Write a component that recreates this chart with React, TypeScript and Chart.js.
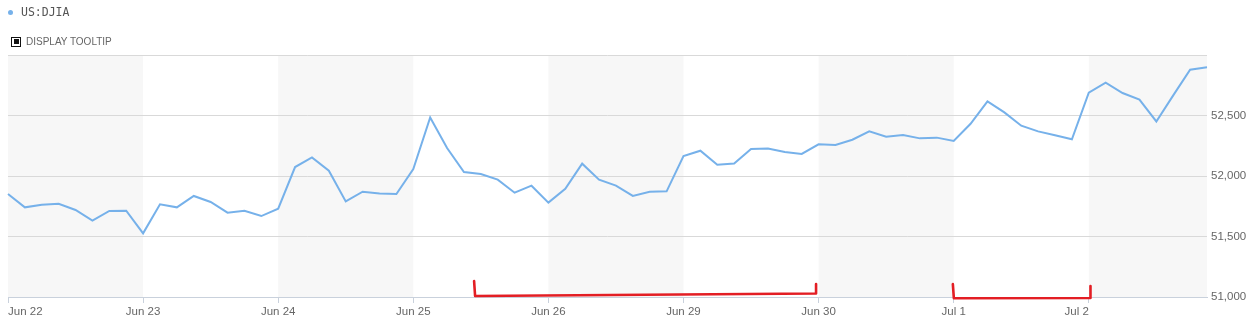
import React, { useEffect, useRef } from "react";
import { Chart, registerables } from "chart.js";

Chart.register(...registerables);

const seriesName = "US:DJIA";
const dayLabels = ["Jun 22", "Jun 23", "Jun 24", "Jun 25", "Jun 26", "Jun 29", "Jun 30", "Jul 1", "Jul 2"];
const pointsPerDay = 8;
const yTicks = [51000, 51500, 52000, 52500, 53000];

const djiaValues = [
  51851, 51741, 51763, 51771, 51719, 51631, 51711, 51713,
  51526, 51766, 51741, 51835, 51785, 51697, 51713, 51669,
  51730, 52074, 52154, 52044, 51790, 51870, 51856, 51851,
  52058, 52484, 52231, 52033, 52017, 51970, 51862, 51920,
  51780, 51895, 52102, 51970, 51920, 51835, 51870, 51873,
  52165, 52209, 52093, 52104, 52223, 52228, 52198, 52182,
  52262, 52256, 52300, 52369, 52325, 52339, 52311, 52317,
  52289, 52432, 52617, 52526, 52416, 52369, 52336, 52303,
  52688, 52771, 52686, 52631, 52451, 52666, 52879, 52898,
];

// hand-drawn red brackets, in data units (index along x, value along y)
const bracketStartIdx = [27.6, 55.95];
const bracketEndIdx = [47.85, 64.1];
const bracketStartTop = [51132, 51107];
const bracketEndTop = [51107, 51091];
const bracketStartBottom = [51008, 50990];
const bracketEndBottom = [51029, 50992];

const LINE_COLOR = "#76b1ea";

export default function App() {
  const canvasRef = useRef<HTMLCanvasElement | null>(null);

  useEffect(() => {
    const canvas = canvasRef.current;
    if (!canvas) return;
    const labels = djiaValues.map((_, i) => (i % pointsPerDay === 0 ? dayLabels[i / pointsPerDay] : ""));

    const bandsPlugin = {
      id: "bands",
      beforeDraw(chart: any) {
        const { ctx, chartArea, scales } = chart;
        ctx.save();
        ctx.fillStyle = "#ffffff";
        ctx.fillRect(0, 0, chart.width, chart.height);
        const x = scales.x;
        ctx.fillStyle = "#f7f7f7";
        dayLabels.forEach((_, d) => {
          if (d % 2 !== 0) return;
          const s = d * pointsPerDay;
          const e = Math.min((d + 1) * pointsPerDay, djiaValues.length - 1);
          const x0 = x.getPixelForValue(s);
          const x1 = x.getPixelForValue(e);
          ctx.fillRect(x0, chartArea.top, x1 - x0, chartArea.bottom - chartArea.top);
        });
        ctx.restore();
      },
    };

    const bracketPlugin = {
      id: "brackets",
      afterDraw(chart: any) {
        const { ctx, scales } = chart;
        const x = scales.x;
        const y = scales.y;
        ctx.save();
        ctx.strokeStyle = "#e31e24";
        ctx.lineWidth = 2.6;
        ctx.lineCap = "round";
        ctx.lineJoin = "round";
        bracketStartIdx.forEach((si, k) => {
          const x0 = x.getPixelForValue(si);
          const x1 = x.getPixelForValue(bracketEndIdx[k]);
          ctx.beginPath();
          ctx.moveTo(x0, y.getPixelForValue(bracketStartTop[k]));
          ctx.lineTo(x0 + 1, y.getPixelForValue(bracketStartBottom[k]));
          ctx.lineTo(x1, y.getPixelForValue(bracketEndBottom[k]));
          ctx.lineTo(x1, y.getPixelForValue(bracketEndTop[k]));
          ctx.stroke();
        });
        ctx.restore();
      },
    };

    const chart = new Chart(canvas, {
      type: "line",
      data: {
        labels,
        datasets: [
          {
            label: seriesName,
            data: djiaValues,
            borderColor: LINE_COLOR,
            backgroundColor: LINE_COLOR,
            borderWidth: 2,
            pointRadius: 0,
            pointHoverRadius: 0,
            tension: 0,
            fill: false,
          },
        ],
      },
      options: {
        animation: false,
        responsive: false,
        maintainAspectRatio: false,
        layout: { padding: { left: 8, top: 55, right: 0, bottom: 0 } },
        plugins: {
          legend: { display: false },
          tooltip: { enabled: false },
        },
        scales: {
          x: {
            type: "category",
            offset: false,
            border: { display: true, color: "#c9d1dc", width: 1 },
            grid: {
              display: true,
              drawOnChartArea: false,
              drawTicks: true,
              tickLength: 6,
              color: "#c9d1dc",
            },
            ticks: {
              autoSkip: false,
              maxRotation: 0,
              minRotation: 0,
              align: "inner",
              padding: 2,
              color: "#666666",
              font: { family: "'Liberation Sans', Arial, sans-serif", size: 11.5 },
              callback: (_v: any, idx: number) =>
                idx % pointsPerDay === 0 ? dayLabels[idx / pointsPerDay] : null,
            },
            afterFit: (scale: any) => {
              scale.height = 30;
            },
          },
          y: {
            type: "linear",
            position: "right",
            min: yTicks[0],
            max: yTicks[yTicks.length - 1],
            afterBuildTicks: (scale: any) => {
              scale.ticks = yTicks.map((v) => ({ value: v }));
            },
            border: { display: false },
            grid: {
              drawTicks: false,
              color: (c: any) => (c.tick && c.tick.value === yTicks[0] ? "rgba(0,0,0,0)" : "#d9d9d9"),
              lineWidth: 1,
            },
            ticks: {
              padding: 4,
              color: "#666666",
              font: { family: "'Liberation Sans', Arial, sans-serif", size: 11.5 },
              callback: (v: any) =>
                v === yTicks[yTicks.length - 1] ? "" : Number(v).toLocaleString("en-US"),
            },
            afterFit: (scale: any) => {
              scale.width = 51;
            },
          },
        },
      },
      plugins: [bandsPlugin, bracketPlugin],
    });

    return () => {
      chart.destroy();
    };
  }, []);

  return (
    <div style={{ position: "relative", width: 1258, height: 327, overflow: "hidden", background: "#fff" }}>
      <style>{`body{margin:0;}`}</style>
      <canvas
        ref={canvasRef}
        width={1258}
        height={327}
        style={{ position: "absolute", left: 0, top: 0, width: 1258, height: 327 }}
      />
      <div
        style={{
          position: "absolute",
          left: 8,
          top: 5,
          display: "flex",
          alignItems: "center",
          fontFamily: "'DejaVu Sans Mono', monospace",
          fontSize: 11.5,
          color: "#555",
          lineHeight: "14px",
        }}
      >
        <span
          style={{
            display: "inline-block",
            width: 5,
            height: 5,
            borderRadius: "50%",
            background: LINE_COLOR,
            marginRight: 8,
          }}
        />
        <span>{seriesName}</span>
      </div>
      <div
        style={{
          position: "absolute",
          left: 11,
          top: 36,
          display: "flex",
          alignItems: "center",
          fontFamily: "'Liberation Sans', Arial, sans-serif",
          fontSize: 10,
          color: "#666",
          lineHeight: "11px",
        }}
      >
        <span
          style={{
            display: "inline-block",
            boxSizing: "border-box",
            width: 10,
            height: 10,
            border: "1.5px solid #111",
            padding: 1.5,
            marginRight: 5,
          }}
        >
          <span style={{ display: "block", width: "100%", height: "100%", background: "#111" }} />
        </span>
        <span>DISPLAY TOOLTIP</span>
      </div>
    </div>
  );
}
